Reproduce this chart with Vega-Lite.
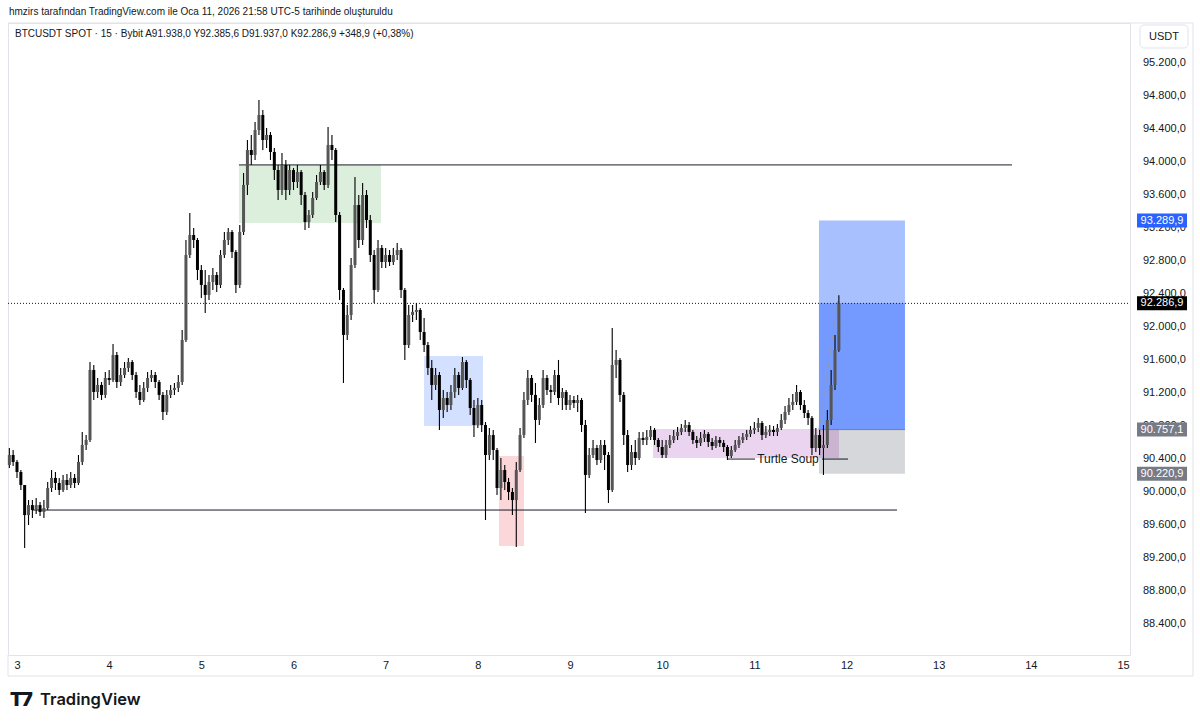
{
"$schema": "https://vega.github.io/schema/vega-lite/v6.json",
"width": 1122, "height": 632,
"autosize": "none",
"padding": {"left": 8, "top": 23, "right": 70, "bottom": 70},
"background": "white",
"config": {"view": {"stroke": "#e0e3eb"}, "font": "Liberation Sans", "text": {"font": "Liberation Sans"}},
"datasets": {
"zones": [
 {"d1":5.408,"d2":6.949,"p1":93964,"p2":93261,"k":"green"},
 {"d1":7.416,"d2":8.056,"p1":91649,"p2":90800,"k":"blue"},
 {"d1":8.229,"d2":8.501,"p1":90437,"p2":89346,"k":"red"},
 {"d1":11.701,"d2":12.634,"p1":93289.9,"p2":90757.1,"k":"target"},
 {"d1":11.701,"d2":12.634,"p1":92286.9,"p2":90757.1,"k":"pnl"},
 {"d1":11.701,"d2":12.634,"p1":90757.1,"p2":90220.9,"k":"stop"},
 {"d1":9.900,"d2":11.918,"p1":90764,"p2":90413,"k":"purple"}
],
"frame": [
 {"d1":2.9024,"d2":15.759,"p1":95685,"p2":95685},
 {"d1":15.759,"d2":15.759,"p1":95685,"p2":87770},
 {"d1":2.9024,"d2":15.759,"p1":87770,"p2":87770},
 {"d1":2.9024,"d2":2.9024,"p1":88025,"p2":87770}
],
"lines": [
 {"d1":5.408,"d2":13.795,"p1":93965,"p2":93965,"k":"solid"},
 {"d1":3.174,"d2":12.548,"p1":89782,"p2":89782,"k":"solid"},
 {"d1":10.714,"d2":11.007,"p1":90400,"p2":90400,"k":"solid"},
 {"d1":11.734,"d2":12.016,"p1":90400,"p2":90400,"k":"solid"},
 {"d1":11.701,"d2":12.634,"p1":90757.1,"p2":90757.1,"k":"entry"},
 {"d1":11.701,"d2":11.907,"p1":90757.1,"p2":92330,"k":"diag"},
 {"d1":2.9024,"d2":15.0756,"p1":92286.9,"p2":92286.9,"k":"dotted"}
],
"yticks": [
 {"p":95200,"t":"95.200,0"},{"p":94800,"t":"94.800,0"},{"p":94400,"t":"94.400,0"},{"p":94000,"t":"94.000,0"},
 {"p":93600,"t":"93.600,0"},{"p":93200,"t":"93.200,0"},{"p":92800,"t":"92.800,0"},{"p":92400,"t":"92.400,0"},
 {"p":92000,"t":"92.000,0"},{"p":91600,"t":"91.600,0"},{"p":91200,"t":"91.200,0"},{"p":90800,"t":"90.800,0"},
 {"p":90400,"t":"90.400,0"},{"p":90000,"t":"90.000,0"},{"p":89600,"t":"89.600,0"},{"p":89200,"t":"89.200,0"},
 {"p":88800,"t":"88.800,0"},{"p":88400,"t":"88.400,0"}
],
"tags": [
 {"p":93289.9,"t":"93.289,9","k":"target"},
 {"p":92286.9,"t":"92.286,9","k":"last"},
 {"p":90757.1,"t":"90.757,1","k":"entry"},
 {"p":90220.9,"t":"90.220,9","k":"stop"}
],
"candles": [
{"d":2.917,"o":90328,"h":90534,"l":90292,"c":90449},
{"d":2.958,"o":90449,"h":90510,"l":90316,"c":90365},
{"d":3,"o":90365,"h":90388,"l":90171,"c":90243},
{"d":3.042,"o":90243,"h":90267,"l":90025,"c":90085},
{"d":3.083,"o":90085,"h":90085,"l":89321,"c":89721},
{"d":3.125,"o":89721,"h":89903,"l":89600,"c":89842},
{"d":3.167,"o":89842,"h":89903,"l":89685,"c":89782},
{"d":3.208,"o":89782,"h":89928,"l":89733,"c":89842},
{"d":3.25,"o":89842,"h":89879,"l":89709,"c":89758},
{"d":3.292,"o":89758,"h":89903,"l":89685,"c":89806},
{"d":3.333,"o":89806,"h":90122,"l":89782,"c":90049},
{"d":3.375,"o":90049,"h":90267,"l":90001,"c":90171},
{"d":3.417,"o":90171,"h":90243,"l":90025,"c":90110},
{"d":3.458,"o":90110,"h":90171,"l":89965,"c":90025},
{"d":3.5,"o":90025,"h":90207,"l":90001,"c":90146},
{"d":3.542,"o":90146,"h":90219,"l":90025,"c":90085},
{"d":3.583,"o":90085,"h":90243,"l":90049,"c":90171},
{"d":3.625,"o":90171,"h":90219,"l":90049,"c":90110},
{"d":3.667,"o":90110,"h":90449,"l":90085,"c":90365},
{"d":3.708,"o":90365,"h":90728,"l":90328,"c":90570},
{"d":3.75,"o":90570,"h":90691,"l":90510,"c":90631},
{"d":3.792,"o":90631,"h":91576,"l":90607,"c":91480},
{"d":3.833,"o":91480,"h":91540,"l":91116,"c":91213},
{"d":3.875,"o":91213,"h":91382,"l":91140,"c":91298},
{"d":3.917,"o":91298,"h":91334,"l":91116,"c":91177},
{"d":3.958,"o":91177,"h":91455,"l":91140,"c":91382},
{"d":4,"o":91382,"h":91480,"l":91298,"c":91358},
{"d":4.042,"o":91358,"h":91795,"l":91334,"c":91661},
{"d":4.083,"o":91661,"h":91698,"l":91262,"c":91334},
{"d":4.125,"o":91334,"h":91504,"l":91286,"c":91419},
{"d":4.167,"o":91419,"h":91576,"l":91382,"c":91504},
{"d":4.208,"o":91504,"h":91625,"l":91455,"c":91576},
{"d":4.25,"o":91576,"h":91601,"l":91358,"c":91419},
{"d":4.292,"o":91419,"h":91455,"l":91140,"c":91213},
{"d":4.333,"o":91213,"h":91298,"l":91055,"c":91116},
{"d":4.375,"o":91116,"h":91334,"l":91092,"c":91262},
{"d":4.417,"o":91262,"h":91455,"l":91213,"c":91382},
{"d":4.458,"o":91382,"h":91480,"l":91334,"c":91419},
{"d":4.5,"o":91419,"h":91455,"l":91262,"c":91334},
{"d":4.542,"o":91334,"h":91358,"l":91116,"c":91177},
{"d":4.583,"o":91177,"h":91213,"l":90874,"c":90971},
{"d":4.625,"o":90971,"h":91237,"l":90934,"c":91177},
{"d":4.667,"o":91177,"h":91298,"l":91140,"c":91237},
{"d":4.708,"o":91237,"h":91322,"l":91177,"c":91262},
{"d":4.75,"o":91262,"h":91419,"l":91213,"c":91334},
{"d":4.792,"o":91334,"h":91964,"l":91298,"c":91843},
{"d":4.833,"o":91843,"h":93055,"l":91819,"c":92873},
{"d":4.875,"o":92873,"h":93382,"l":92837,"c":93116},
{"d":4.917,"o":93116,"h":93200,"l":92958,"c":93055},
{"d":4.958,"o":93055,"h":93079,"l":92570,"c":92691},
{"d":5,"o":92691,"h":92752,"l":92352,"c":92510},
{"d":5.042,"o":92510,"h":92691,"l":92170,"c":92389},
{"d":5.083,"o":92389,"h":92631,"l":92328,"c":92546},
{"d":5.125,"o":92546,"h":92715,"l":92449,"c":92631},
{"d":5.167,"o":92631,"h":92667,"l":92425,"c":92510},
{"d":5.208,"o":92510,"h":92934,"l":92473,"c":92873},
{"d":5.25,"o":92873,"h":93152,"l":92837,"c":93055},
{"d":5.292,"o":93055,"h":93200,"l":92994,"c":93152},
{"d":5.333,"o":93152,"h":93176,"l":92837,"c":92910},
{"d":5.375,"o":92910,"h":92934,"l":92413,"c":92510},
{"d":5.417,"o":92510,"h":93237,"l":92473,"c":93152},
{"d":5.458,"o":93152,"h":93867,"l":93116,"c":93722},
{"d":5.5,"o":93722,"h":94267,"l":93600,"c":94146},
{"d":5.542,"o":94146,"h":94328,"l":93964,"c":94085},
{"d":5.583,"o":94085,"h":94485,"l":94025,"c":94388},
{"d":5.625,"o":94388,"h":94752,"l":94328,"c":94570},
{"d":5.667,"o":94570,"h":94631,"l":94146,"c":94267},
{"d":5.708,"o":94267,"h":94412,"l":94170,"c":94328},
{"d":5.75,"o":94328,"h":94364,"l":94025,"c":94122},
{"d":5.792,"o":94122,"h":94170,"l":93782,"c":93903},
{"d":5.833,"o":93903,"h":93964,"l":93540,"c":93661},
{"d":5.875,"o":93661,"h":94110,"l":93600,"c":93964},
{"d":5.917,"o":93964,"h":94025,"l":93540,"c":93661},
{"d":5.958,"o":93661,"h":93964,"l":93600,"c":93903},
{"d":6,"o":93903,"h":93928,"l":93661,"c":93758},
{"d":6.042,"o":93758,"h":93964,"l":93685,"c":93879},
{"d":6.083,"o":93879,"h":93903,"l":93479,"c":93600},
{"d":6.125,"o":93600,"h":93637,"l":93176,"c":93273},
{"d":6.167,"o":93273,"h":93418,"l":93200,"c":93358},
{"d":6.208,"o":93358,"h":93637,"l":93322,"c":93564},
{"d":6.25,"o":93564,"h":93843,"l":93540,"c":93758},
{"d":6.292,"o":93758,"h":93964,"l":93722,"c":93879},
{"d":6.333,"o":93879,"h":93903,"l":93661,"c":93722},
{"d":6.375,"o":93722,"h":94425,"l":93685,"c":94206},
{"d":6.417,"o":94206,"h":94328,"l":94025,"c":94146},
{"d":6.458,"o":94146,"h":94170,"l":93273,"c":93358},
{"d":6.5,"o":93358,"h":93394,"l":92328,"c":92449},
{"d":6.542,"o":92449,"h":92473,"l":91322,"c":91904},
{"d":6.583,"o":91904,"h":92267,"l":91843,"c":92146},
{"d":6.625,"o":92146,"h":92837,"l":92085,"c":92752},
{"d":6.667,"o":92752,"h":93818,"l":92715,"c":93479},
{"d":6.708,"o":93479,"h":93600,"l":92958,"c":93055},
{"d":6.75,"o":93055,"h":93746,"l":92994,"c":93600},
{"d":6.792,"o":93600,"h":93661,"l":93200,"c":93297},
{"d":6.833,"o":93297,"h":93358,"l":92788,"c":92873},
{"d":6.875,"o":92873,"h":92934,"l":92292,"c":92449},
{"d":6.917,"o":92449,"h":93055,"l":92425,"c":92958},
{"d":6.958,"o":92958,"h":92994,"l":92715,"c":92788},
{"d":7,"o":92788,"h":92958,"l":92715,"c":92873},
{"d":7.042,"o":92873,"h":92934,"l":92740,"c":92788},
{"d":7.083,"o":92788,"h":92958,"l":92752,"c":92873},
{"d":7.125,"o":92873,"h":93019,"l":92813,"c":92934},
{"d":7.167,"o":92934,"h":92958,"l":92352,"c":92449},
{"d":7.208,"o":92449,"h":92473,"l":91601,"c":91782},
{"d":7.25,"o":91782,"h":92267,"l":91746,"c":92146},
{"d":7.292,"o":92146,"h":92267,"l":92061,"c":92183},
{"d":7.333,"o":92183,"h":92292,"l":92085,"c":92207},
{"d":7.375,"o":92207,"h":92231,"l":91843,"c":91940},
{"d":7.417,"o":91940,"h":92110,"l":91698,"c":91782},
{"d":7.458,"o":91782,"h":91819,"l":91419,"c":91504},
{"d":7.5,"o":91504,"h":91601,"l":91116,"c":91298},
{"d":7.542,"o":91298,"h":91504,"l":91237,"c":91419},
{"d":7.583,"o":91419,"h":91455,"l":90752,"c":90995},
{"d":7.625,"o":90995,"h":91237,"l":90898,"c":91140},
{"d":7.667,"o":91140,"h":91213,"l":90971,"c":91055},
{"d":7.708,"o":91055,"h":91298,"l":90995,"c":91213},
{"d":7.75,"o":91213,"h":91504,"l":91140,"c":91419},
{"d":7.792,"o":91419,"h":91455,"l":91177,"c":91262},
{"d":7.833,"o":91262,"h":91637,"l":91237,"c":91576},
{"d":7.875,"o":91576,"h":91601,"l":91262,"c":91358},
{"d":7.917,"o":91358,"h":91382,"l":90934,"c":91019},
{"d":7.958,"o":91019,"h":91116,"l":90667,"c":90813},
{"d":8,"o":90813,"h":91140,"l":90777,"c":91055},
{"d":8.042,"o":91055,"h":91116,"l":90728,"c":90813},
{"d":8.083,"o":90813,"h":90849,"l":89661,"c":90449},
{"d":8.125,"o":90449,"h":90777,"l":90388,"c":90691},
{"d":8.167,"o":90691,"h":90752,"l":90388,"c":90510},
{"d":8.208,"o":90510,"h":90534,"l":89965,"c":90049},
{"d":8.25,"o":90049,"h":90413,"l":89903,"c":90267},
{"d":8.292,"o":90267,"h":90328,"l":90025,"c":90122},
{"d":8.333,"o":90122,"h":90171,"l":89903,"c":90001},
{"d":8.375,"o":90001,"h":90049,"l":89721,"c":89903},
{"d":8.417,"o":89903,"h":90365,"l":89333,"c":90267},
{"d":8.458,"o":90267,"h":90777,"l":90243,"c":90691},
{"d":8.5,"o":90691,"h":91213,"l":90655,"c":91116},
{"d":8.542,"o":91116,"h":91480,"l":91055,"c":91382},
{"d":8.583,"o":91382,"h":91419,"l":91092,"c":91177},
{"d":8.625,"o":91177,"h":91322,"l":90595,"c":90874},
{"d":8.667,"o":90874,"h":91140,"l":90813,"c":91055},
{"d":8.708,"o":91055,"h":91480,"l":91019,"c":91382},
{"d":8.75,"o":91382,"h":91419,"l":91177,"c":91237},
{"d":8.792,"o":91237,"h":91298,"l":91080,"c":91213},
{"d":8.833,"o":91213,"h":91480,"l":91177,"c":91419},
{"d":8.875,"o":91419,"h":91601,"l":91055,"c":91140},
{"d":8.917,"o":91140,"h":91262,"l":90995,"c":91213},
{"d":8.958,"o":91213,"h":91237,"l":90995,"c":91055},
{"d":9,"o":91055,"h":91177,"l":90995,"c":91116},
{"d":9.042,"o":91116,"h":91164,"l":91019,"c":91080},
{"d":9.083,"o":91080,"h":91177,"l":90971,"c":91116},
{"d":9.125,"o":91116,"h":91140,"l":90728,"c":90813},
{"d":9.167,"o":90813,"h":90874,"l":89746,"c":90207},
{"d":9.208,"o":90207,"h":90534,"l":90171,"c":90449},
{"d":9.25,"o":90449,"h":90631,"l":90413,"c":90534},
{"d":9.292,"o":90534,"h":90570,"l":90328,"c":90388},
{"d":9.333,"o":90388,"h":90631,"l":90352,"c":90570},
{"d":9.375,"o":90570,"h":90631,"l":90267,"c":90449},
{"d":9.417,"o":90449,"h":90485,"l":89867,"c":90025},
{"d":9.458,"o":90025,"h":91989,"l":90001,"c":91540},
{"d":9.5,"o":91540,"h":91722,"l":91382,"c":91601},
{"d":9.542,"o":91601,"h":91625,"l":91092,"c":91177},
{"d":9.583,"o":91177,"h":91213,"l":90570,"c":90691},
{"d":9.625,"o":90691,"h":90752,"l":90243,"c":90328},
{"d":9.667,"o":90328,"h":90570,"l":90267,"c":90485},
{"d":9.708,"o":90485,"h":90631,"l":90328,"c":90413},
{"d":9.75,"o":90413,"h":90728,"l":90388,"c":90655},
{"d":9.792,"o":90655,"h":90728,"l":90570,"c":90631},
{"d":9.833,"o":90631,"h":90752,"l":90570,"c":90667},
{"d":9.875,"o":90667,"h":90801,"l":90631,"c":90752},
{"d":9.917,"o":90752,"h":90777,"l":90570,"c":90631},
{"d":9.958,"o":90631,"h":90655,"l":90485,"c":90546},
{"d":10,"o":90546,"h":90631,"l":90413,"c":90449},
{"d":10.042,"o":90449,"h":90631,"l":90413,"c":90570},
{"d":10.083,"o":90570,"h":90691,"l":90534,"c":90631},
{"d":10.125,"o":90631,"h":90752,"l":90595,"c":90679},
{"d":10.167,"o":90679,"h":90789,"l":90631,"c":90728},
{"d":10.208,"o":90728,"h":90825,"l":90691,"c":90777},
{"d":10.25,"o":90777,"h":90874,"l":90728,"c":90813},
{"d":10.292,"o":90813,"h":90849,"l":90679,"c":90728},
{"d":10.333,"o":90728,"h":90752,"l":90582,"c":90631},
{"d":10.375,"o":90631,"h":90679,"l":90534,"c":90595},
{"d":10.417,"o":90595,"h":90728,"l":90558,"c":90655},
{"d":10.458,"o":90655,"h":90752,"l":90607,"c":90704},
{"d":10.5,"o":90704,"h":90728,"l":90546,"c":90607},
{"d":10.542,"o":90607,"h":90655,"l":90510,"c":90558},
{"d":10.583,"o":90558,"h":90679,"l":90534,"c":90631},
{"d":10.625,"o":90631,"h":90667,"l":90546,"c":90595},
{"d":10.667,"o":90595,"h":90631,"l":90485,"c":90546},
{"d":10.708,"o":90546,"h":90570,"l":90388,"c":90437},
{"d":10.75,"o":90437,"h":90558,"l":90413,"c":90510},
{"d":10.792,"o":90510,"h":90631,"l":90485,"c":90570},
{"d":10.833,"o":90570,"h":90679,"l":90534,"c":90631},
{"d":10.875,"o":90631,"h":90716,"l":90595,"c":90667},
{"d":10.917,"o":90667,"h":90752,"l":90631,"c":90704},
{"d":10.958,"o":90704,"h":90801,"l":90667,"c":90752},
{"d":11,"o":90752,"h":90849,"l":90704,"c":90777},
{"d":11.042,"o":90777,"h":90898,"l":90728,"c":90837},
{"d":11.083,"o":90837,"h":90862,"l":90631,"c":90691},
{"d":11.125,"o":90691,"h":90801,"l":90655,"c":90728},
{"d":11.167,"o":90728,"h":90813,"l":90679,"c":90752},
{"d":11.208,"o":90752,"h":90801,"l":90679,"c":90728},
{"d":11.25,"o":90728,"h":90825,"l":90679,"c":90777},
{"d":11.292,"o":90777,"h":90946,"l":90752,"c":90874},
{"d":11.333,"o":90874,"h":91043,"l":90825,"c":90971},
{"d":11.375,"o":90971,"h":91140,"l":90934,"c":91055},
{"d":11.417,"o":91055,"h":91189,"l":90995,"c":91092},
{"d":11.458,"o":91092,"h":91298,"l":91055,"c":91213},
{"d":11.5,"o":91213,"h":91237,"l":90995,"c":91055},
{"d":11.542,"o":91055,"h":91116,"l":90898,"c":90958},
{"d":11.583,"o":90958,"h":90995,"l":90813,"c":90898},
{"d":11.625,"o":90898,"h":90922,"l":90449,"c":90534},
{"d":11.667,"o":90534,"h":90777,"l":90485,"c":90691},
{"d":11.708,"o":90691,"h":90752,"l":90449,"c":90534},
{"d":11.75,"o":90534,"h":90813,"l":90207,"c":90570},
{"d":11.792,"o":90570,"h":90995,"l":90534,"c":90874},
{"d":11.833,"o":90874,"h":91480,"l":90813,"c":91298},
{"d":11.875,"o":91298,"h":91904,"l":91237,"c":91722},
{"d":11.917,"o":91722,"h":92386,"l":91700,"c":92287}
]
},
"layer": [
{
 "data": {"name": "zones"},
 "transform": [{"filter": "datum.k == 'target' || datum.k == 'pnl'"}],
 "mark": {"type": "rect", "opacity": 0.4},
 "encoding": {
  "x": {"field": "d1", "type": "quantitative", "scale": {"domain": [2.9024, 15.0756], "nice": false, "zero": false, "padding": 0},
        "axis": {"values": [3,4,5,6,7,8,9,10,11,12,13,14,15], "format": "d", "title": null, "grid": false, "ticks": false, "domain": false, "labelColor": "#131722", "labelFontSize": 11, "labelPadding": 4, "labelFlush": false, "labelFont": "Liberation Sans"}},
  "x2": {"field": "d2"},
  "y": {"field": "p1", "type": "quantitative", "scale": {"domain": [88025, 95685], "nice": false, "zero": false},
        "axis": {"orient": "right", "labels": false, "title": null, "grid": false, "ticks": false, "domain": false}},
  "y2": {"field": "p2"},
  "fill": {"field": "k", "type": "nominal", "legend": null, "scale": {"domain": ["green","blue","red","target","pnl","stop","purple"], "range": ["#4caf50","#2962ff","#f23645","#2962ff","#2962ff","#787b86","#9c27b0"]}}
 }
},
{
 "data": {"name": "zones"},
 "transform": [{"filter": "datum.k == 'stop'"}],
 "mark": {"type": "rect", "opacity": 0.3},
 "encoding": {
  "x": {"field": "d1", "type": "quantitative", "scale": {"domain": [2.9024, 15.0756], "nice": false, "zero": false, "padding": 0}},
  "x2": {"field": "d2"},
  "y": {"field": "p1", "type": "quantitative", "scale": {"domain": [88025, 95685], "nice": false, "zero": false}},
  "y2": {"field": "p2"},
  "fill": {"field": "k", "type": "nominal", "legend": null, "scale": {"domain": ["green","blue","red","target","pnl","stop","purple"], "range": ["#4caf50","#2962ff","#f23645","#2962ff","#2962ff","#787b86","#9c27b0"]}}
 }
},
{
 "data": {"name": "zones"},
 "transform": [{"filter": "datum.k == 'green' || datum.k == 'blue' || datum.k == 'red' || datum.k == 'purple'"}],
 "mark": {"type": "rect", "opacity": 0.2},
 "encoding": {
  "x": {"field": "d1", "type": "quantitative", "scale": {"domain": [2.9024, 15.0756], "nice": false, "zero": false, "padding": 0}},
  "x2": {"field": "d2"},
  "y": {"field": "p1", "type": "quantitative", "scale": {"domain": [88025, 95685], "nice": false, "zero": false}},
  "y2": {"field": "p2"},
  "fill": {"field": "k", "type": "nominal", "legend": null, "scale": {"domain": ["green","blue","red","target","pnl","stop","purple"], "range": ["#4caf50","#2962ff","#f23645","#2962ff","#2962ff","#787b86","#9c27b0"]}}
 }
},
{
 "data": {"name": "frame"},
 "mark": {"type": "rule", "color": "#e0e3eb", "strokeWidth": 1},
 "encoding": {
  "x": {"field": "d1", "type": "quantitative", "scale": {"domain": [2.9024, 15.0756], "nice": false, "zero": false, "padding": 0}},
  "x2": {"field": "d2"},
  "y": {"field": "p1", "type": "quantitative", "scale": {"domain": [88025, 95685], "nice": false, "zero": false}},
  "y2": {"field": "p2"}
 }
},
{
 "data": {"name": "lines"},
 "mark": {"type": "rule", "strokeWidth": 1},
 "encoding": {
  "x": {"field": "d1", "type": "quantitative", "scale": {"domain": [2.9024, 15.0756], "nice": false, "zero": false, "padding": 0}},
  "x2": {"field": "d2"},
  "y": {"field": "p1", "type": "quantitative", "scale": {"domain": [88025, 95685], "nice": false, "zero": false}},
  "y2": {"field": "p2"},
  "stroke": {"field": "k", "type": "nominal", "legend": null, "scale": {"domain": ["solid","entry","diag","dotted"], "range": ["#131722","#787b86","#9598a1","#131722"]}},
  "strokeDash": {"field": "k", "type": "nominal", "legend": null, "scale": {"domain": ["solid","entry","diag","dotted"], "range": [[1,0],[1,0],[4,3],[1,2]]}}
 }
},
{
 "data": {"name": "candles"},
 "mark": {"type": "rule", "color": "#000000", "strokeWidth": 1.1},
 "encoding": {
  "x": {"field": "d", "type": "quantitative", "scale": {"domain": [2.9024, 15.0756], "nice": false, "zero": false, "padding": 0}},
  "y": {"field": "l", "type": "quantitative", "scale": {"domain": [88025, 95685], "nice": false, "zero": false}},
  "y2": {"field": "h"}
 }
},
{
 "data": {"name": "candles"},
 "mark": {"type": "bar", "size": 3},
 "encoding": {
  "x": {"field": "d", "type": "quantitative", "scale": {"domain": [2.9024, 15.0756], "nice": false, "zero": false, "padding": 0}},
  "y": {"field": "o", "type": "quantitative", "scale": {"domain": [88025, 95685], "nice": false, "zero": false}},
  "y2": {"field": "c"},
  "color": {"condition": {"test": "datum.c >= datum.o", "value": "#555555"}, "value": "#000000"}
 }
},
{
 "data": {"name": "yticks"},
 "mark": {"type": "text", "color": "#131722", "fontSize": 11, "align": "left", "baseline": "middle"},
 "encoding": {
  "x": {"datum": 15.2166, "type": "quantitative", "scale": {"domain": [2.9024, 15.0756], "nice": false, "zero": false, "padding": 0}},
  "y": {"field": "p", "type": "quantitative", "scale": {"domain": [88025, 95685], "nice": false, "zero": false}},
  "text": {"field": "t"}
 }
},
{
 "data": {"name": "tags"},
 "mark": {"type": "point", "shape": "M-1,-0.28H1V0.28H-1Z", "size": 2500, "filled": true, "opacity": 1, "strokeWidth": 0},
 "encoding": {
  "x": {"datum": 15.423, "type": "quantitative", "scale": {"domain": [2.9024, 15.0756], "nice": false, "zero": false, "padding": 0}},
  "y": {"field": "p", "type": "quantitative", "scale": {"domain": [88025, 95685], "nice": false, "zero": false}},
  "color": {"field": "k", "type": "nominal", "legend": null, "scale": {"domain": ["target","last","entry","stop"], "range": ["#2962ff","#000000","#787b86","#787b86"]}}
 }
},
{
 "data": {"name": "tags"},
 "mark": {"type": "text", "color": "#ffffff", "fontSize": 11, "align": "center", "baseline": "middle"},
 "encoding": {
  "x": {"datum": 15.423, "type": "quantitative", "scale": {"domain": [2.9024, 15.0756], "nice": false, "zero": false, "padding": 0}},
  "y": {"field": "p", "type": "quantitative", "scale": {"domain": [88025, 95685], "nice": false, "zero": false}},
  "text": {"field": "t"}
 }
},
{
 "data": {"values": [{}]},
 "mark": {"type": "rect", "fill": "#ffffff", "stroke": "#e0e3eb", "strokeWidth": 1, "cornerRadius": 4},
 "encoding": {
  "x": {"datum": 15.184, "type": "quantitative", "scale": {"domain": [2.9024, 15.0756], "nice": false, "zero": false, "padding": 0}},
  "x2": {"datum": 15.705},
  "y": {"datum": 95661, "type": "quantitative", "scale": {"domain": [88025, 95685], "nice": false, "zero": false}},
  "y2": {"datum": 95382}
 }
},
{
 "data": {"values": [{}]},
 "mark": {"type": "text", "text": "USDT", "color": "#131722", "fontSize": 11, "align": "center", "baseline": "middle"},
 "encoding": {
  "x": {"datum": 15.445, "type": "quantitative", "scale": {"domain": [2.9024, 15.0756], "nice": false, "zero": false, "padding": 0}},
  "y": {"datum": 95516, "type": "quantitative", "scale": {"domain": [88025, 95685], "nice": false, "zero": false}}
 }
},
{
 "data": {"values": [{}]},
 "mark": {"type": "text", "text": "hmzirs tarafından TradingView.com ile Oca 11, 2026 21:58 UTC-5 tarihinde oluşturuldu", "color": "#131722", "fontSize": 10, "align": "left", "baseline": "middle"},
 "encoding": {
  "x": {"datum": 2.913, "type": "quantitative", "scale": {"domain": [2.9024, 15.0756], "nice": false, "zero": false, "padding": 0}},
  "y": {"datum": 95819, "type": "quantitative", "scale": {"domain": [88025, 95685], "nice": false, "zero": false}}
 }
},
{
 "data": {"values": [{}]},
 "mark": {"type": "text", "text": "BTCUSDT SPOT · 15 · Bybit  A91.938,0 Y92.385,6 D91.937,0 K92.286,9 +348,9 (+0,38%)", "color": "#131722", "fontSize": 10, "align": "left", "baseline": "middle"},
 "encoding": {
  "x": {"datum": 2.978, "type": "quantitative", "scale": {"domain": [2.9024, 15.0756], "nice": false, "zero": false, "padding": 0}},
  "y": {"datum": 95552, "type": "quantitative", "scale": {"domain": [88025, 95685], "nice": false, "zero": false}}
 }
},
{
 "data": {"values": [{}]},
 "mark": {"type": "text", "text": "Turtle Soup", "color": "#131722", "fontSize": 12, "align": "center", "baseline": "middle"},
 "encoding": {
  "x": {"datum": 11.365, "type": "quantitative", "scale": {"domain": [2.9024, 15.0756], "nice": false, "zero": false, "padding": 0}},
  "y": {"datum": 90400, "type": "quantitative", "scale": {"domain": [88025, 95685], "nice": false, "zero": false}}
 }
},
{
 "data": {"values": [{}]},
 "mark": {"type": "text", "text": "T7", "color": "#131722", "fontSize": 19, "fontWeight": 900, "font": "Inter", "align": "left", "baseline": "middle"},
 "encoding": {
  "x": {"datum": 2.924, "type": "quantitative", "scale": {"domain": [2.9024, 15.0756], "nice": false, "zero": false, "padding": 0}},
  "y": {"datum": 87479, "type": "quantitative", "scale": {"domain": [88025, 95685], "nice": false, "zero": false}}
 }
},
{
 "data": {"values": [{}]},
 "mark": {"type": "text", "text": "TradingView", "color": "#131722", "fontSize": 16.5, "fontWeight": 600, "font": "Inter", "align": "left", "baseline": "middle"},
 "encoding": {
  "x": {"datum": 3.25, "type": "quantitative", "scale": {"domain": [2.9024, 15.0756], "nice": false, "zero": false, "padding": 0}},
  "y": {"datum": 87479, "type": "quantitative", "scale": {"domain": [88025, 95685], "nice": false, "zero": false}}
 }
}
]
}
